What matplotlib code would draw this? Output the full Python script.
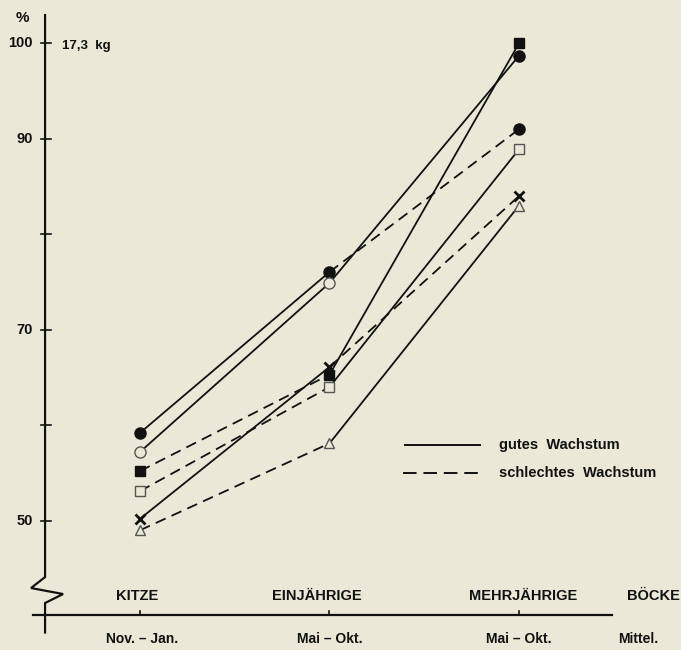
import matplotlib
matplotlib.use("Agg")
import matplotlib.pyplot as plt

# Data (percent of 17,3 kg)
categories = ["KITZE", "EINJÄHRIGE", "MEHRJÄHRIGE", "BÖCKE"]
periods = ["Nov. – Jan.", "Mai – Okt.", "Mai – Okt.", "Mittel."]

filled_circle = [59.2, 76.05, 91.0]
open_circle = [57.2, 74.9, 98.7]
filled_square = [55.2, 65.3, 100.0]
open_square = [53.1, 64.0, 88.9]
cross = [50.2, 66.1, 84.0]
triangle = [49.0, 58.1, 83.0]

# marker, filled?, and segment styles between the three age classes
series = [
    (filled_circle, ["o", "o", "o"], [True, True, True], ["-", "--"]),
    (open_circle, ["o", "o", "o"], [False, False, True], ["-", "-"]),
    (filled_square, ["s", "s", "s"], [True, True, True], ["--", "-"]),
    (open_square, ["s", "s", "s"], [False, False, False], ["--", "-"]),
    (cross, ["x", "x", "x"], [True, True, True], ["-", "--"]),
    (triangle, ["^", "^", "^"], [False, False, False], ["--", "-"]),
]

y_ticks = [50, 60, 70, 80, 90, 100]
y_labels = ["50", "", "70", "", "90", "100"]

BG = "#ebe8d8"
INK = "#111111"
DASH = (6, 3.6)

plt.rcParams["font.family"] = ["Liberation Sans", "DejaVu Sans"]
plt.rcParams["font.weight"] = "bold"

fig = plt.figure(figsize=(6.81, 6.50), dpi=100, facecolor=BG)
ax = fig.add_axes([0, 0, 1, 1])
ax.set_facecolor(BG)
ax.set_xlim(-0.7388, 2.8549)
ax.set_ylim(36.46, 104.535)
ax.axis("off")

# y axis with break symbol
ax_x = -0.501
ax.plot([ax_x, ax_x, -0.575, -0.406, ax_x, ax_x],
        [102.96, 44.10, 42.95, 42.32, 41.38, 38.29],
        color=INK, lw=1.6, solid_joinstyle="miter")
for t, lab in zip(y_ticks, y_labels):
    ax.plot([-0.522, -0.470], [t, t], color=INK, lw=1.2)
    if lab:
        ax.text(-0.565, t, lab, ha="right", va="center", fontsize=10.5, color=INK)
ax.text(-0.62, 102.7, "%", ha="center", va="center", fontsize=11, color=INK)
ax.text(-0.41, 99.7, "17,3  kg", ha="left", va="center", fontsize=9.5, color=INK)

# x axis
ax.plot([-0.565, 2.491], [40.1, 40.1], color=INK, lw=1.6)
for i in range(3):
    ax.plot([i, i], [40.1, 40.5], color=INK, lw=1.2)

cat_x = [-0.015, 0.934, 2.02, 2.71]
per_x = [0.01, 1.0, 2.0, 2.63]
for x, lab in zip(cat_x, categories):
    ax.text(x, 42.1, lab, ha="center", va="center", fontsize=10.5, color=INK)
for x, lab in zip(per_x, periods):
    ax.text(x, 37.6, lab, ha="center", va="center", fontsize=10, color=INK)

# series lines
xs = [0, 1, 2]
for vals, marks, fills, styles in series:
    for k in range(2):
        line, = ax.plot(xs[k:k + 2], vals[k:k + 2], color=INK, lw=1.3, zorder=2)
        if styles[k] == "--":
            line.set_dashes(DASH)
    for x, v, m, f in zip(xs, vals, marks, fills):
        if m == "x":
            ax.plot(x, v, marker="x", ms=7, mew=2, color=INK, zorder=3)
        else:
            ms = 8 if m == "o" else 7.5
            ax.plot(x, v, marker=m, ms=ms, mew=1.0,
                    mfc=INK if f else BG, mec=INK if f else "#555555", zorder=3)

# legend
ax.plot([1.398, 1.794], [57.95, 57.95], color=INK, lw=1.4)
ax.text(1.894, 57.95, "gutes  Wachstum", ha="left", va="center", fontsize=10.5, color=INK)
dl, = ax.plot([1.388, 1.784], [55.0, 55.0], color=INK, lw=1.4)
dl.set_dashes((7, 3.5))
ax.text(1.894, 55.0, "schlechtes  Wachstum", ha="left", va="center", fontsize=10.5, color=INK)

fig.savefig("out.png", dpi=100, facecolor=BG)
